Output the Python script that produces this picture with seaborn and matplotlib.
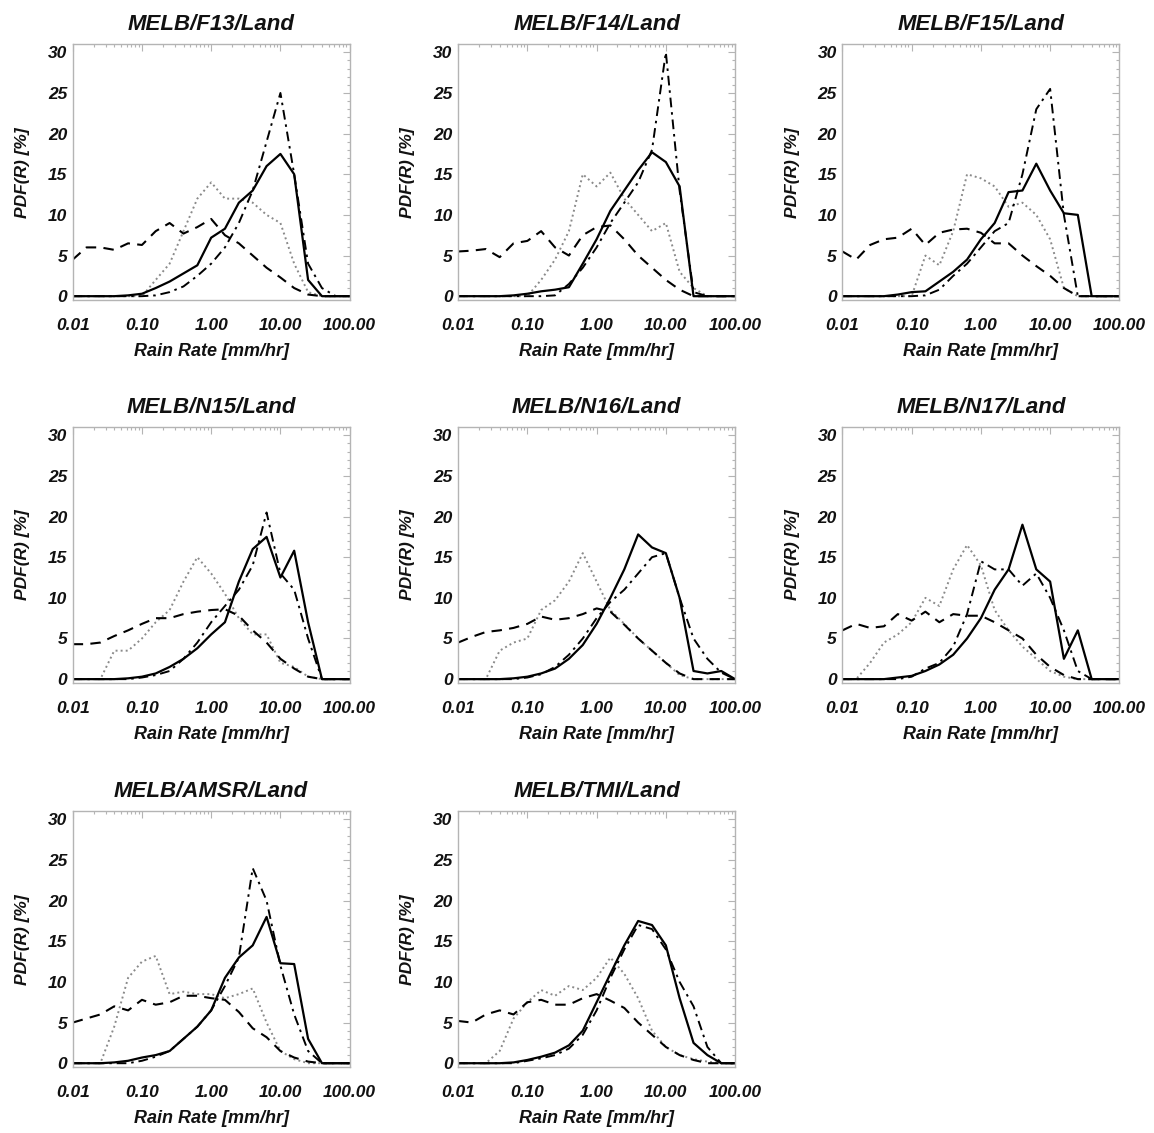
import numpy as np
import pandas as pd
import seaborn as sns
import matplotlib
matplotlib.use("Agg")
import matplotlib.pyplot as plt
from matplotlib.ticker import FixedLocator, MultipleLocator, LogLocator, NullFormatter

# rain-rate bins (5 per decade)
rain_rate = [0.01, 0.0158, 0.0251, 0.0398, 0.0631, 0.1, 0.158, 0.251, 0.398, 0.631,
             1.0, 1.58, 2.51, 3.98, 6.31, 10.0, 15.8, 25.1, 39.8, 63.1, 100.0]

panels = ["F13", "F14", "F15", "N15", "N16", "N17", "AMSR", "TMI"]

x_ticks = [0.01, 0.1, 1.0, 10.0, 100.0]
x_tick_labels = ["0.01", "0.10", "1.00", "10.00", "100.00"]
y_ticks = [0, 5, 10, 15, 20, 25, 30]

# PDF(R) [%] for each sensor, four curves each
f13_solid = [0, 0, 0, 0, 0.1, 0.3, 1.0, 1.8, 2.8, 3.8, 7.2, 8.3, 11.5, 13.0, 16.0, 17.5, 15.0, 2.0, 0, 0, 0]
f13_dashdot = [0, 0, 0, 0, 0, 0, 0.1, 0.5, 1.2, 2.5, 4.0, 6.0, 9.0, 13.0, 19.0, 25.0, 15.0, 4.0, 1.0, 0, 0]
f13_dotted = [0, 0, 0, 0, 0, 0, 2.0, 4.0, 8.0, 12.0, 14.0, 12.0, 12.0, 11.5, 10.0, 9.0, 4.0, 0.5, 0, 0, 0]
f13_dashed = [4.5, 6.0, 6.0, 5.7, 6.5, 6.3, 8.0, 9.0, 7.7, 8.5, 9.5, 7.5, 6.5, 5.0, 3.5, 2.3, 1.0, 0.2, 0, 0, 0]

f14_solid = [0, 0, 0, 0, 0.1, 0.3, 0.6, 0.8, 1.1, 4.0, 7.0, 10.5, 13.0, 15.5, 17.7, 16.5, 13.5, 0, 0, 0, 0]
f14_dashdot = [0, 0, 0, 0, 0, 0, 0, 0.1, 1.5, 3.5, 6.0, 9.0, 11.5, 14.0, 18.0, 30.0, 13.0, 0.5, 0, 0, 0]
f14_dotted = [0, 0, 0, 0, 0, 0, 2.0, 4.5, 8.0, 15.0, 13.5, 15.2, 12.0, 10.0, 8.0, 9.0, 3.0, 1.0, 0, 0, 0]
f14_dashed = [5.5, 5.6, 5.8, 4.8, 6.5, 6.8, 8.0, 6.0, 5.0, 7.5, 8.5, 8.7, 7.0, 5.0, 3.5, 2.0, 0.8, 0, 0, 0, 0]

f15_solid = [0, 0, 0, 0, 0.2, 0.5, 0.6, 1.8, 3.0, 4.5, 7.0, 9.0, 12.8, 13.0, 16.3, 13.0, 10.2, 10.0, 0, 0, 0]
f15_dashdot = [0, 0, 0, 0, 0, 0, 0.1, 0.8, 2.5, 4.0, 6.0, 8.0, 9.0, 15.0, 23.0, 25.5, 10.0, 0, 0, 0, 0]
f15_dotted = [0, 0, 0, 0, 0, 0, 5.0, 3.8, 8.0, 15.0, 14.5, 13.5, 11.0, 11.5, 10.0, 7.0, 1.0, 0, 0, 0, 0]
f15_dashed = [5.5, 4.5, 6.3, 7.0, 7.2, 8.3, 6.3, 7.8, 8.2, 8.3, 7.8, 6.5, 6.5, 5.0, 3.7, 2.5, 1.0, 0, 0, 0, 0]

n15_solid = [0, 0, 0, 0, 0.1, 0.3, 0.7, 1.5, 2.5, 3.8, 5.5, 7.0, 12.0, 16.0, 17.5, 12.5, 15.8, 7.0, 0, 0, 0]
n15_dashdot = [0, 0, 0, 0, 0, 0.2, 0.5, 1.0, 2.5, 4.5, 7.0, 9.0, 11.0, 14.0, 20.5, 13.0, 11.0, 5.0, 0, 0, 0]
n15_dotted = [0, 0, 0, 3.5, 3.5, 5.0, 7.0, 8.5, 12.0, 15.0, 13.0, 10.5, 7.5, 5.5, 5.5, 2.0, 1.5, 0.3, 0, 0, 0]
n15_dashed = [4.3, 4.3, 4.5, 5.3, 6.0, 6.8, 7.5, 7.5, 8.0, 8.3, 8.5, 8.6, 7.8, 6.0, 4.5, 2.5, 1.3, 0.3, 0, 0, 0]

n16_solid = [0, 0, 0, 0, 0.1, 0.3, 0.7, 1.3, 2.5, 4.2, 6.8, 10.0, 13.5, 17.8, 16.2, 15.5, 10.0, 1.0, 0.7, 1.0, 0]
n16_dashdot = [0, 0, 0, 0, 0, 0.2, 0.6, 1.5, 3.0, 5.0, 7.5, 9.5, 11.0, 13.0, 15.0, 15.5, 10.0, 5.0, 2.5, 0.8, 0]
n16_dotted = [0, 0, 0, 3.5, 4.5, 5.0, 8.5, 9.7, 12.0, 15.5, 12.0, 8.5, 6.8, 5.0, 3.5, 2.0, 0.5, 0, 0, 0, 0]
n16_dashed = [4.5, 5.2, 5.8, 6.0, 6.3, 6.8, 7.7, 7.3, 7.5, 8.0, 8.7, 8.3, 6.7, 5.0, 3.5, 2.0, 0.7, 0, 0, 0, 0]

n17_solid = [0, 0, 0, 0, 0.2, 0.4, 1.0, 1.8, 3.0, 5.0, 7.5, 11.0, 13.5, 19.0, 13.5, 12.0, 2.5, 6.0, 0, 0, 0]
n17_dashdot = [0, 0, 0, 0, 0, 0.3, 1.3, 2.0, 4.0, 8.0, 14.5, 13.5, 13.5, 11.5, 13.0, 10.0, 6.0, 1.0, 0, 0, 0]
n17_dotted = [0, 0, 2.0, 4.5, 5.5, 7.0, 10.0, 9.0, 13.5, 16.5, 14.0, 8.5, 6.0, 4.0, 2.5, 1.0, 0.3, 0, 0, 0, 0]
n17_dashed = [6.0, 6.8, 6.3, 6.5, 8.0, 7.2, 8.3, 7.0, 8.0, 7.8, 7.8, 7.0, 6.0, 5.0, 3.0, 1.5, 0.5, 0, 0, 0, 0]

amsr_solid = [0, 0, 0, 0.1, 0.3, 0.7, 1.0, 1.5, 3.0, 4.5, 6.5, 10.5, 13.0, 14.5, 18.0, 12.3, 12.2, 3.0, 0, 0, 0]
amsr_dashdot = [0, 0, 0, 0, 0, 0.3, 0.8, 1.5, 3.0, 4.5, 6.5, 9.5, 13.0, 24.0, 20.0, 12.0, 6.0, 1.5, 0, 0, 0]
amsr_dotted = [0, 0, 0, 4.5, 10.5, 12.5, 13.2, 8.5, 8.8, 8.5, 8.5, 8.0, 8.5, 9.2, 5.0, 1.5, 0.5, 0, 0, 0, 0]
amsr_dashed = [5.0, 5.5, 6.0, 7.0, 6.5, 7.8, 7.2, 7.5, 8.3, 8.3, 8.0, 7.8, 6.3, 4.3, 3.2, 1.5, 0.7, 0.2, 0, 0, 0]

tmi_solid = [0, 0, 0, 0, 0.1, 0.4, 0.8, 1.3, 2.2, 4.0, 7.5, 11.0, 14.5, 17.5, 17.0, 14.5, 8.0, 2.5, 1.0, 0, 0]
tmi_dashdot = [0, 0, 0, 0, 0, 0.3, 0.6, 1.0, 1.8, 3.5, 6.5, 10.5, 14.0, 17.0, 16.5, 14.0, 10.0, 7.0, 2.0, 0, 0]
tmi_dotted = [0, 0, 0, 1.5, 5.5, 7.5, 9.0, 8.3, 9.5, 9.0, 10.5, 13.0, 11.0, 8.0, 4.0, 2.0, 1.0, 0.5, 0.2, 0, 0]
tmi_dashed = [5.2, 5.0, 6.0, 6.5, 6.0, 7.5, 7.8, 7.2, 7.2, 8.0, 8.5, 7.7, 6.8, 5.0, 3.5, 2.0, 1.0, 0.4, 0, 0, 0]

curves = {
    "F13": (f13_dotted, f13_dashed, f13_dashdot, f13_solid),
    "F14": (f14_dotted, f14_dashed, f14_dashdot, f14_solid),
    "F15": (f15_dotted, f15_dashed, f15_dashdot, f15_solid),
    "N15": (n15_dotted, n15_dashed, n15_dashdot, n15_solid),
    "N16": (n16_dotted, n16_dashed, n16_dashdot, n16_solid),
    "N17": (n17_dotted, n17_dashed, n17_dashdot, n17_solid),
    "AMSR": (amsr_dotted, amsr_dashed, amsr_dashdot, amsr_solid),
    "TMI": (tmi_dotted, tmi_dashed, tmi_dashdot, tmi_solid),
}

# dotted, dashed, dash-dot, solid
line_styles = [
    dict(color="#8a8a8a", lw=1.4, dashes=(1, 1.6)),
    dict(color="black", lw=1.5, dashes=(5, 3.5)),
    dict(color="black", lw=1.4, dashes=(5, 2.5, 1.3, 2.5)),
    dict(color="black", lw=1.6, dashes=()),
]

sns.set_style("white")
plt.rcParams["font.family"] = ["Liberation Sans", "DejaVu Sans"]
plt.rcParams["font.weight"] = "bold"
plt.rcParams["font.style"] = "italic"
plt.rcParams["text.color"] = "#111111"
plt.rcParams["axes.labelcolor"] = "#111111"
plt.rcParams["xtick.labelcolor"] = "#111111"
plt.rcParams["ytick.labelcolor"] = "#111111"

fig = plt.figure(figsize=(11.54, 11.33), dpi=100)

col_left = [0.063, 0.397, 0.730]
row_bottom = [0.735, 0.397, 0.058]
ax_w, ax_h = 0.240, 0.226

spine_col = "#b4b4b4"

for i, name in enumerate(panels):
    r, c = divmod(i, 3)
    ax = fig.add_axes([col_left[c], row_bottom[r], ax_w, ax_h])
    for vals, st in zip(curves[name], line_styles):
        df = pd.DataFrame({"rain": rain_rate, "pdf": vals})
        sns.lineplot(data=df, x="rain", y="pdf", ax=ax, color=st["color"],
                     lw=st["lw"], estimator=None, sort=False)
        ln = ax.lines[-1]
        if st["dashes"]:
            ln.set_dashes(st["dashes"])
    ax.set_xscale("log")
    ax.set_xlim(0.01, 100)
    ax.set_ylim(-0.5, 31)
    ax.xaxis.set_major_locator(FixedLocator(x_ticks))
    ax.set_xticklabels(x_tick_labels)
    ax.xaxis.set_minor_locator(LogLocator(base=10, subs=np.arange(2, 10)))
    ax.xaxis.set_minor_formatter(NullFormatter())
    ax.yaxis.set_major_locator(FixedLocator(y_ticks))
    ax.yaxis.set_minor_locator(MultipleLocator(1))
    for sp in ax.spines.values():
        sp.set_color(spine_col)
        sp.set_linewidth(1.0)
        sp.set_visible(True)
    ax.tick_params(which="both", direction="in", top=True, right=True,
                   color=spine_col, width=0.8)
    ax.tick_params(which="major", length=5, labelsize=12.5)
    ax.tick_params(which="minor", length=2.5)
    ax.tick_params(axis="x", which="major", pad=13)
    ax.tick_params(axis="y", which="major", pad=4)
    for lab in ax.get_xticklabels() + ax.get_yticklabels():
        lab.set_fontweight("bold")
        lab.set_fontstyle("italic")
    ax.set_xlabel("Rain Rate [mm/hr]", fontsize=13, fontweight="bold",
                  fontstyle="italic", labelpad=7)
    ax.set_ylabel("PDF(R) [%]", fontsize=12.5, fontweight="bold",
                  fontstyle="italic", labelpad=13)
    ax.set_title("MELB/%s/Land" % name, fontsize=16, fontweight="bold",
                 fontstyle="italic", pad=10)

fig.savefig("out.png", dpi=100, facecolor="white")
